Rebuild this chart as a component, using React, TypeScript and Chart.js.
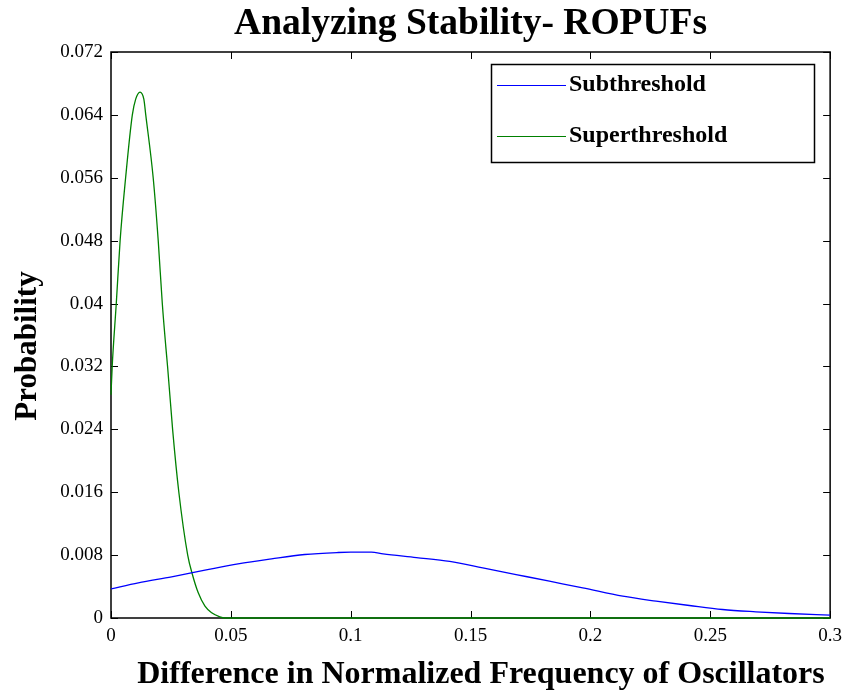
import React, { useEffect, useRef } from "react";
import { Chart, registerables } from "chart.js";

Chart.register(...registerables);

const chartTitle = "Analyzing Stability- ROPUFs";
const xAxisTitle = "Difference in Normalized Frequency of Oscillators";
const yAxisTitle = "Probability";
const seriesNames = ["Subthreshold", "Superthreshold"];

const xTickValues = [0, 0.05, 0.1, 0.15, 0.2, 0.25, 0.3];
const xTickLabels = ["0", "0.05", "0.1", "0.15", "0.2", "0.25", "0.3"];
const yTickValues = [0, 0.008, 0.016, 0.024, 0.032, 0.04, 0.048, 0.056, 0.064, 0.072];
const yTickLabels = ["0", "0.008", "0.016", "0.024", "0.032", "0.04", "0.048", "0.056", "0.064", "0.072"];

const subX = [0, 0.0114, 0.0253, 0.0392, 0.053, 0.067, 0.0808, 0.0947, 0.1, 0.1086, 0.1135, 0.1274, 0.1413, 0.1551, 0.169, 0.1829, 0.1968, 0.2135, 0.2274, 0.2413, 0.2551, 0.269, 0.2829, 0.3];
const subY = [0.00371, 0.00448, 0.00524, 0.00608, 0.00689, 0.00753, 0.00808, 0.00833, 0.00837, 0.00837, 0.00816, 0.00769, 0.00719, 0.00638, 0.00553, 0.00468, 0.00384, 0.00277, 0.00214, 0.00159, 0.00108, 0.00079, 0.00057, 0.00036];

const superX = [0, 0.0005, 0.0022, 0.0038, 0.0061, 0.0089, 0.0103, 0.0121, 0.0137, 0.0145, 0.0176, 0.0197, 0.0214, 0.0229, 0.0236, 0.0257, 0.0283, 0.032, 0.0339, 0.0364, 0.0392, 0.042, 0.0454, 0.0475, 0.1, 0.2, 0.3];
const superY = [0.0284, 0.032, 0.04, 0.048, 0.056, 0.064, 0.066, 0.0669, 0.066, 0.064, 0.056, 0.048, 0.04, 0.0344, 0.032, 0.024, 0.016, 0.008, 0.0056, 0.0032, 0.0015, 0.00066, 0.00015, 0, 0, 0, 0];

const FONT = "'Liberation Serif', 'Times New Roman', serif";

const matlabPlugin = {
  id: "matlabLook",
  beforeDatasetsDraw(chart: any) {
    const { ctx, chartArea } = chart;
    const { left, right, top, bottom } = chartArea;
    const xs = chart.scales.x;
    const ys = chart.scales.y;
    ctx.save();
    ctx.strokeStyle = "#000";
    ctx.lineWidth = 1;
    ctx.beginPath();
    const tl = 7;
    xTickValues.forEach((v) => {
      const px = Math.round(xs.getPixelForValue(v)) + 0.5;
      ctx.moveTo(px, bottom);
      ctx.lineTo(px, bottom - tl);
      ctx.moveTo(px, top);
      ctx.lineTo(px, top + tl);
    });
    yTickValues.forEach((v) => {
      const py = Math.round(ys.getPixelForValue(v)) + 0.5;
      ctx.moveTo(left, py);
      ctx.lineTo(left + tl, py);
      ctx.moveTo(right, py);
      ctx.lineTo(right - tl, py);
    });
    ctx.stroke();
    ctx.lineWidth = 1.5;
    ctx.strokeRect(left, top, right - left, bottom - top);
    ctx.restore();
  },
  afterDraw(chart: any) {
    const { ctx, chartArea } = chart;
    const { left, right, top, bottom } = chartArea;
    ctx.save();
    ctx.fillStyle = "#000";
    ctx.font = `bold 37.5px ${FONT}`;
    ctx.textAlign = "center";
    ctx.textBaseline = "middle";
    ctx.fillText(chartTitle, (left + right) / 2, 24);
    ctx.font = `bold 32px ${FONT}`;
    ctx.fillText(xAxisTitle, 481, 675);
    ctx.save();
    ctx.translate(28, (top + bottom) / 2 + 11);
    ctx.rotate(-Math.PI / 2);
    ctx.font = `bold 31px ${FONT}`;
    ctx.fillText(yAxisTitle, 0, 0);
    ctx.restore();
    const bx = 491.5, by = 64.5, bw = 323, bh = 98;
    ctx.fillStyle = "#fff";
    ctx.fillRect(bx, by, bw, bh);
    ctx.strokeStyle = "#000";
    ctx.lineWidth = 1.5;
    ctx.strokeRect(bx, by, bw, bh);
    const colors = ["#0000ff", "#008000"];
    const rows = [85, 136];
    ctx.font = `bold 24px ${FONT}`;
    ctx.textAlign = "left";
    ctx.textBaseline = "middle";
    seriesNames.forEach((name, i) => {
      ctx.strokeStyle = colors[i];
      ctx.lineWidth = 1;
      ctx.beginPath();
      ctx.moveTo(497, rows[i] + 0.5);
      ctx.lineTo(566, rows[i] + 0.5);
      ctx.stroke();
      ctx.fillStyle = "#000";
      ctx.fillText(name, 569, rows[i]);
    });
    ctx.restore();
  },
};

export default function App() {
  const ref = useRef<HTMLCanvasElement | null>(null);
  useEffect(() => {
    if (!ref.current) return;
    const chart = new Chart(ref.current, {
      type: "line",
      data: {
        datasets: [
          {
            label: seriesNames[0],
            data: subX.map((x, i) => ({ x, y: subY[i] })),
            borderColor: "#0000ff",
            borderWidth: 1.3,
            pointRadius: 0,
            cubicInterpolationMode: "monotone",
            fill: false,
          },
          {
            label: seriesNames[1],
            data: superX.map((x, i) => ({ x, y: superY[i] })),
            borderColor: "#008000",
            borderWidth: 1.3,
            pointRadius: 0,
            cubicInterpolationMode: "monotone",
            fill: false,
            clip: 4,
          },
        ],
      },
      options: {
        responsive: false,
        animation: false,
        devicePixelRatio: 1,
        layout: { padding: { top: 52, right: 18, left: 0, bottom: 0 } },
        plugins: {
          legend: { display: false },
          title: { display: false },
          tooltip: { enabled: false },
        },
        scales: {
          x: {
            type: "linear",
            min: 0,
            max: 0.3,
            afterFit: (s: any) => {
              s.height = 76;
            },
            afterBuildTicks: (s: any) => {
              s.ticks = xTickValues.map((v) => ({ value: v }));
            },
            grid: { display: false, drawTicks: false },
            border: { display: false },
            ticks: {
              padding: 7,
              color: "#000",
              font: { family: FONT, size: 19 },
              maxRotation: 0,
              callback: (v: any) => {
                const i = xTickValues.findIndex((t) => Math.abs(t - v) < 1e-9);
                return i >= 0 ? xTickLabels[i] : "";
              },
            },
          },
          y: {
            type: "linear",
            min: 0,
            max: 0.072,
            afterFit: (s: any) => {
              s.width = 111;
            },
            afterBuildTicks: (s: any) => {
              s.ticks = yTickValues.map((v) => ({ value: v }));
            },
            grid: { display: false, drawTicks: false },
            border: { display: false },
            ticks: {
              padding: 8,
              color: "#000",
              font: { family: FONT, size: 19 },
              callback: (v: any) => {
                const i = yTickValues.findIndex((t) => Math.abs(t - v) < 1e-9);
                return i >= 0 ? yTickLabels[i] : "";
              },
            },
          },
        },
      },
      plugins: [matlabPlugin],
    } as any);
    return () => chart.destroy();
  }, []);
  return (
    <div style={{ position: "absolute", left: 0, top: 0, width: 849, height: 694, background: "#fff" }}>
      <canvas ref={ref} width={849} height={694} />
    </div>
  );
}
